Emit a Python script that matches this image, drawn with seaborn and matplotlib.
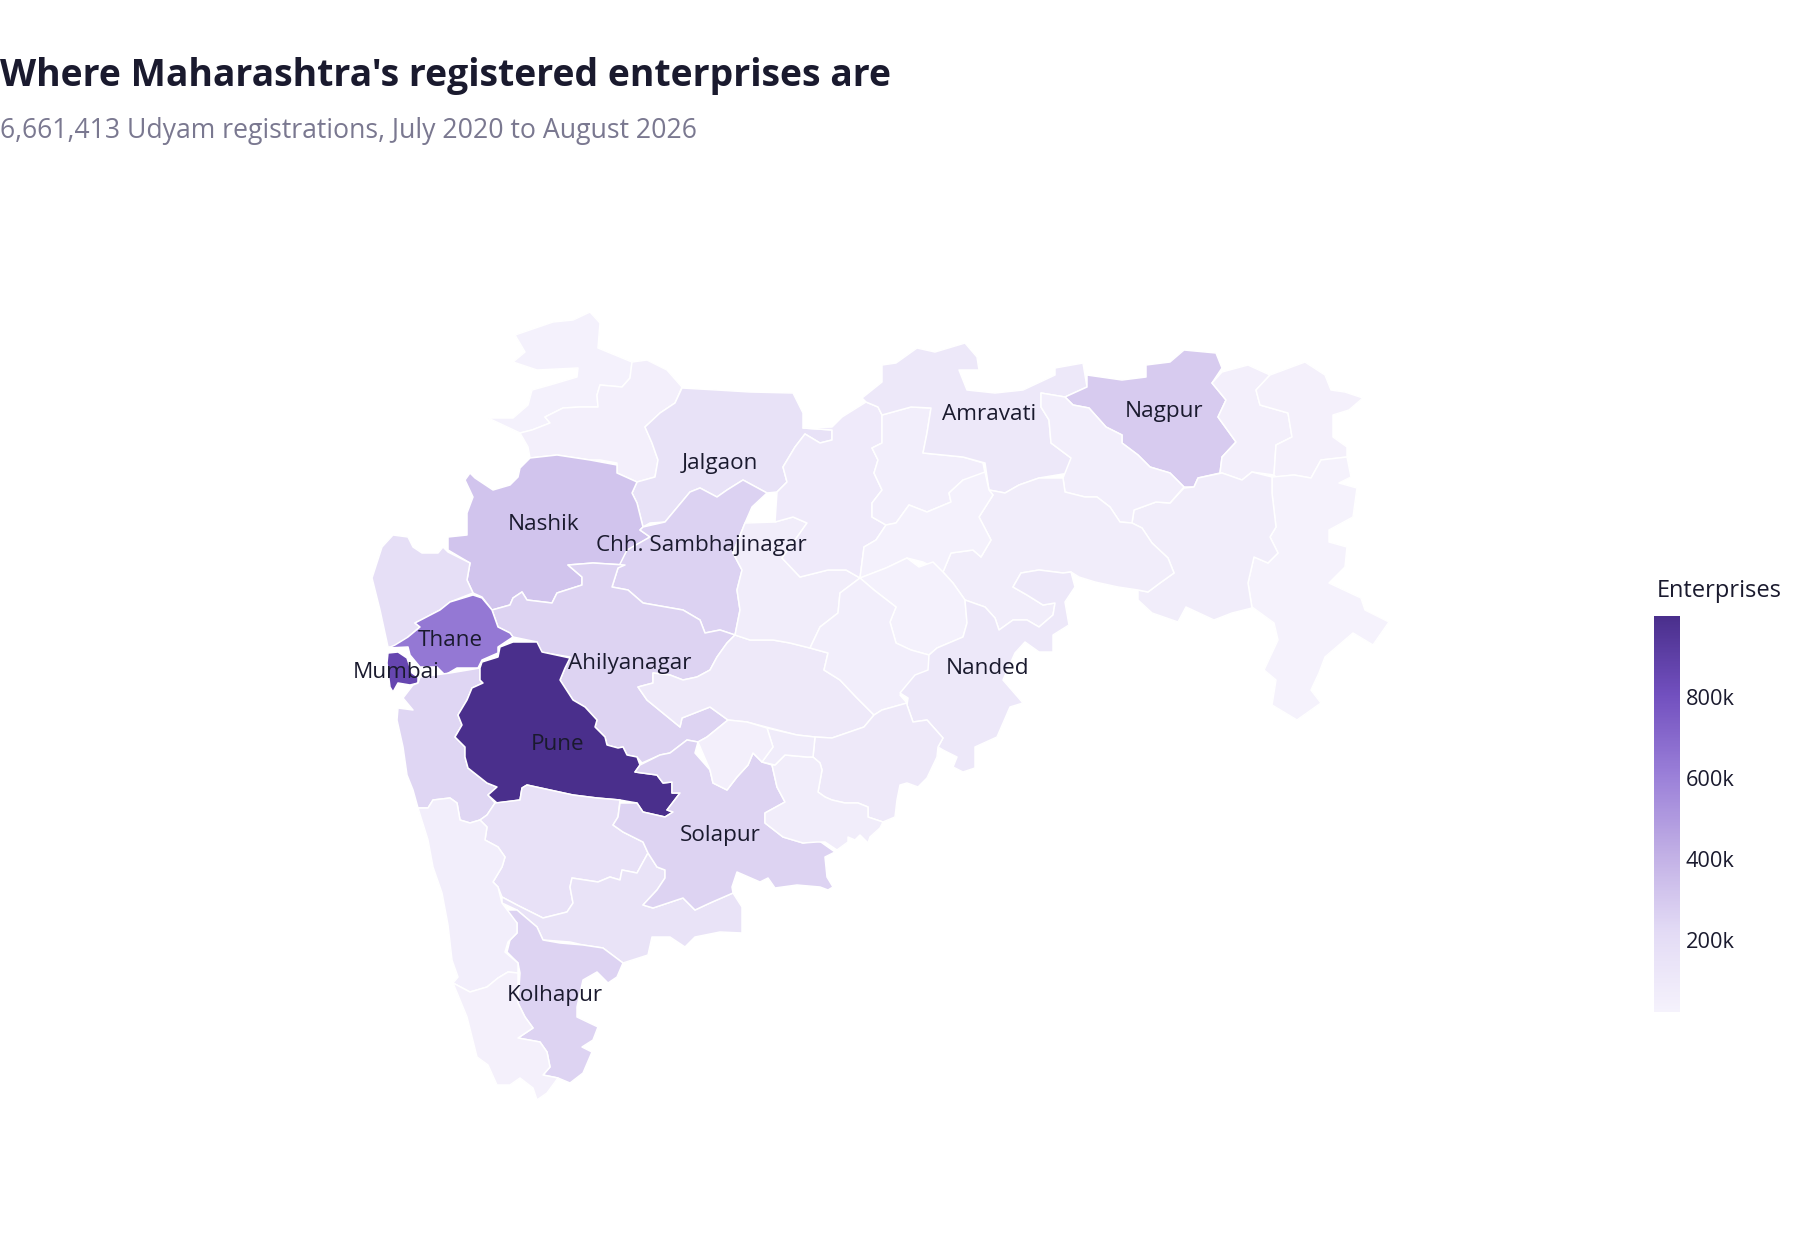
import matplotlib
matplotlib.use("Agg")
import matplotlib.pyplot as plt
from matplotlib.cm import ScalarMappable
from matplotlib.colors import Normalize
from matplotlib.ticker import FuncFormatter
import seaborn as sns

# district outlines (x, y in picture pixels)
nandurbar = [(515,335),(553,322),(573,320),(590,312),(600,323),(598,348),(632,362),(630,378),(622,387),(600,385),(597,395),(598,407),(580,407),(563,408),(545,417),(550,423),(532,430),(520,433),(488,418),(513,418),(528,405),(532,390),(550,385),(577,377),(578,368),(537,370),(513,362),(525,352)]
dhule = [(520,433),(532,430),(550,423),(545,417),(563,408),(580,407),(598,407),(597,395),(600,385),(622,387),(630,378),(632,362),(647,360),(667,370),(682,387),(675,403),(660,413),(645,427),(652,443),(658,460),(655,477),(637,482),(617,473),(617,463),(600,460),(590,460),(557,455),(530,458),(528,447)]
jalgaon = [(682,388),(717,390),(750,392),(793,393),(803,413),(803,428),(832,430),(832,440),(820,443),(805,434),(795,447),(783,467),(787,482),(777,492),(767,493),(743,480),(727,490),(717,497),(700,488),(690,492),(675,510),(665,522),(650,523),(643,527),(637,503),(632,493),(637,482),(655,477),(658,460),(652,443),(645,427),(660,413),(675,403)]
nashik = [(530,458),(557,455),(590,460),(617,465),(617,473),(637,482),(632,493),(637,503),(643,527),(640,530),(650,537),(628,550),(625,565),(593,563),(568,565),(582,577),(582,585),(557,593),(552,603),(527,600),(522,592),(513,598),(510,605),(492,610),(482,597),(473,593),(467,580),(470,563),(448,550),(448,537),(467,535),(467,513),(473,497),(465,480),(470,473),(475,478),(493,490),(510,485),(518,477),(520,468)]
sambhajinagar = [(675,510),(690,492),(700,488),(717,497),(727,490),(743,480),(767,493),(752,507),(745,523),(733,553),(742,570),(737,590),(740,610),(735,635),(720,630),(705,633),(700,620),(683,610),(643,603),(628,590),(612,587),(618,568),(627,550),(650,537),(640,530),(643,527),(665,522)]
ahilyanagar = [(568,565),(593,563),(625,565),(618,568),(612,587),(628,590),(643,603),(683,610),(700,620),(705,633),(720,630),(735,635),(727,643),(717,657),(710,670),(697,677),(683,680),(670,675),(653,673),(653,683),(638,687),(647,700),(680,727),(682,718),(710,707),(728,720),(707,737),(698,742),(687,740),(670,753),(660,755),(642,763),(637,757),(627,755),(623,747),(618,748),(607,745),(605,737),(595,727),(597,720),(585,707),(573,700),(560,680),(565,668),(570,657),(540,652),(537,642),(513,637),(510,633),(498,627),(492,610),(510,605),(513,598),(522,592),(527,600),(552,603),(557,593),(582,585),(582,577)]
palghar = [(393,535),(408,537),(413,547),(422,553),(438,553),(443,547),(448,552),(470,563),(467,580),(473,593),(450,602),(440,610),(415,623),(420,627),(408,637),(408,647),(388,647),(380,610),(372,578),(382,547)]
thane = [(473,595),(482,598),(492,610),(498,627),(510,633),(513,637),(498,647),(498,653),(482,660),(478,668),(457,668),(445,675),(437,667),(420,667),(410,655),(408,647),(388,648),(395,645),(408,637),(420,627),(415,623),(440,610),(450,602)]
mumbai = [(388,653),(398,652),(407,658),(412,673),(418,677),(418,683),(410,685),(398,683),(393,692),(390,687),(387,663)]
raigad = [(413,685),(418,683),(420,677),(450,673),(480,668),(480,680),(483,683),(472,688),(467,700),(458,715),(462,725),(455,737),(465,747),(465,757),(468,768),(487,783),(497,787),(488,795),(495,803),(487,815),(480,820),(470,823),(460,820),(457,803),(450,798),(433,800),(428,808),(418,808),(413,790),(407,775),(403,747),(397,720),(398,708),(413,710),(403,698)]
pune = [(500,647),(513,642),(537,642),(542,652),(570,658),(565,668),(560,680),(573,700),(585,707),(597,720),(595,727),(605,737),(607,745),(618,748),(623,747),(627,755),(637,757),(640,765),(635,772),(657,775),(663,783),(672,782),(672,793),(680,793),(667,810),(673,812),(665,817),(643,812),(637,803),(620,800),(597,798),(573,795),(550,790),(527,785),(522,788),(520,800),(497,803),(488,795),(497,787),(487,783),(468,768),(465,757),(465,747),(455,737),(462,725),(458,715),(467,700),(472,688),(483,683),(480,680),(480,668),(482,662),(498,657)]
satara = [(495,803),(520,800),(522,788),(527,785),(550,790),(573,795),(597,798),(620,800),(618,817),(613,825),(623,832),(643,842),(648,853),(637,873),(622,870),(620,880),(610,877),(598,882),(572,878),(570,887),(573,903),(567,912),(543,918),(517,905),(502,897),(498,887),(493,882),(502,867),(505,857),(498,847),(485,840),(487,827),(480,820),(487,815)]
sangli = [(572,878),(598,882),(610,877),(620,880),(622,870),(637,873),(648,853),(657,867),(665,870),(665,878),(657,890),(643,905),(653,908),(683,898),(695,910),(710,903),(733,893),(742,907),(742,923),(742,933),(720,932),(695,937),(685,947),(670,937),(652,937),(648,955),(623,963),(603,948),(583,945),(570,942),(543,940),(537,927),(517,910),(502,903),(502,897),(517,905),(543,918),(567,912),(573,903),(570,887)]
kolhapur = [(517,910),(537,927),(543,940),(560,943),(583,945),(603,948),(623,963),(617,977),(608,983),(597,972),(583,980),(577,1007),(577,1017),(598,1027),(593,1040),(582,1047),(592,1052),(583,1073),(570,1083),(558,1078),(543,1075),(550,1067),(547,1052),(540,1042),(518,1038),(533,1028),(525,1017),(518,1003),(520,973),(518,963),(507,952),(510,940),(517,933),(517,923),(502,910)]
ratnagiri = [(418,808),(428,808),(433,800),(450,798),(457,803),(460,820),(470,823),(480,820),(487,827),(485,840),(498,847),(505,857),(502,867),(493,882),(498,887),(502,903),(517,923),(517,933),(508,942),(505,952),(518,963),(518,973),(508,972),(498,978),(487,987),(470,992),(453,983),(458,977),(452,960),(448,925),(442,893),(433,867),(428,840)]
sindhudurg = [(453,983),(470,992),(487,987),(498,978),(508,972),(518,973),(518,1003),(525,1017),(533,1028),(518,1038),(540,1042),(547,1052),(550,1067),(543,1075),(558,1078),(547,1093),(537,1100),(533,1088),(520,1078),(510,1085),(497,1085),(488,1065),(477,1057),(467,1017)]
solapur = [(620,803),(637,803),(643,812),(665,817),(673,812),(667,810),(680,793),(672,793),(672,782),(663,783),(657,775),(635,772),(640,765),(660,755),(670,753),(687,740),(698,742),(695,753),(710,770),(713,783),(727,790),(737,777),(748,765),(753,753),(762,762),(772,765),(777,787),(785,802),(765,813),(765,823),(783,837),(803,843),(818,840),(835,852),(825,857),(827,877),(833,887),(828,890),(820,887),(797,885),(775,888),(768,878),(760,882),(737,872),(732,887),(733,893),(710,903),(695,910),(683,898),(653,908),(643,905),(657,890),(665,878),(665,870),(657,867),(648,853),(643,842),(623,832),(613,825),(618,817)]
beed = [(735,635),(750,640),(773,640),(790,643),(810,648),(828,653),(824,670),(840,680),(856,697),(874,715),(864,727),(832,738),(815,737),(797,735),(770,728),(747,722),(728,720),(710,707),(682,718),(680,727),(647,700),(638,687),(653,683),(653,673),(670,675),(683,680),(697,677),(710,670),(717,657),(727,643)]
jalna = [(745,523),(775,522),(793,517),(807,523),(795,540),(782,558),(800,577),(828,570),(846,570),(860,578),(840,593),(838,613),(820,627),(810,648),(790,643),(773,640),(750,640),(735,635),(740,610),(737,590),(742,570),(733,553)]
buldhana = [(803,428),(832,427),(842,417),(866,402),(878,407),(882,415),(882,443),(872,448),(878,460),(874,473),(882,490),(872,503),(872,517),(886,525),(876,540),(864,547),(860,578),(846,570),(828,570),(800,577),(782,558),(795,540),(807,523),(793,517),(775,522),(777,492),(787,482),(783,467),(795,447),(805,434),(820,443),(832,440),(832,430)]
akola = [(882,415),(911,407),(931,408),(927,433),(923,453),(963,457),(983,463),(987,483),(963,480),(949,493),(951,502),(927,512),(909,505),(896,523),(886,525),(872,517),(872,503),(882,490),(874,473),(878,460),(872,448),(882,443)]
amravati = [(862,398),(882,382),(882,365),(896,363),(917,348),(935,352),(965,343),(977,357),(979,370),(959,370),(967,390),(995,393),(1023,390),(1055,375),(1055,368),(1083,363),(1087,387),(1065,397),(1041,393),(1041,407),(1049,420),(1051,443),(1071,458),(1069,473),(1039,478),(1019,485),(1005,493),(989,490),(985,463),(963,457),(923,453),(927,433),(931,408),(911,407),(882,415),(878,407),(866,402)]
nagpur = [(1065,397),(1087,387),(1087,375),(1122,380),(1146,377),(1146,365),(1170,362),(1184,350),(1216,353),(1222,368),(1212,383),(1226,400),(1218,417),(1236,442),(1222,457),(1220,473),(1198,478),(1194,487),(1184,487),(1170,473),(1150,467),(1138,455),(1122,443),(1122,435),(1106,427),(1089,408),(1073,405)]
bhandara = [(1212,383),(1222,372),(1248,365),(1270,375),(1256,390),(1260,405),(1288,413),(1292,437),(1276,445),(1274,475),(1252,472),(1242,480),(1222,473),(1220,473),(1222,457),(1236,442),(1218,417),(1226,400)]
gondia = [(1270,375),(1305,362),(1325,375),(1331,390),(1345,392),(1363,398),(1349,410),(1333,415),(1333,437),(1347,447),(1347,457),(1321,460),(1311,478),(1294,475),(1276,477),(1274,475),(1276,445),(1292,437),(1288,413),(1260,405),(1256,390)]
gadchiroli = [(1272,477),(1294,475),(1311,478),(1321,460),(1347,457),(1351,477),(1339,483),(1357,488),(1353,517),(1329,530),(1329,542),(1347,547),(1345,567),(1329,583),(1361,598),(1365,610),(1389,622),(1373,645),(1353,633),(1325,657),(1319,673),(1311,690),(1321,703),(1297,720),(1272,705),(1276,680),(1264,670),(1278,640),(1274,623),(1252,607),(1248,583),(1254,557),(1268,563),(1278,553),(1270,537),(1276,527),(1272,493)]
chandrapur = [(1184,488),(1170,503),(1156,502),(1134,510),(1132,523),(1142,528),(1152,543),(1168,558),(1174,573),(1160,583),(1148,592),(1138,590),(1138,600),(1152,613),(1178,622),(1186,607),(1214,620),(1232,613),(1252,608),(1248,583),(1254,557),(1268,563),(1278,553),(1270,537),(1276,527),(1272,493),(1272,477),(1252,472),(1242,480),(1222,473),(1198,478),(1194,487)]
wardha = [(1041,393),(1065,397),(1073,405),(1089,408),(1106,427),(1122,435),(1122,443),(1138,455),(1150,467),(1170,473),(1184,487),(1170,503),(1156,502),(1134,510),(1132,523),(1120,522),(1110,507),(1097,497),(1085,497),(1065,492),(1063,478),(1071,458),(1051,443),(1049,420),(1041,407)]
yavatmal = [(989,490),(1005,493),(1019,485),(1039,478),(1063,478),(1065,492),(1085,497),(1097,497),(1110,507),(1120,522),(1132,523),(1142,528),(1152,543),(1168,558),(1174,573),(1160,583),(1148,592),(1138,590),(1118,587),(1095,582),(1079,577),(1071,572),(1063,573),(1039,570),(1021,573),(1013,587),(1027,595),(1043,605),(1055,603),(1053,615),(1039,627),(1027,620),(1013,620),(999,630),(995,618),(985,607),(965,600),(953,583),(943,572),(951,553),(973,550),(981,557),(991,540),(979,517),(993,495)]
washim = [(985,472),(989,490),(993,495),(979,517),(991,540),(981,557),(973,550),(951,553),(943,572),(923,562),(907,558),(886,568),(860,578),(864,547),(876,540),(886,525),(896,523),(909,505),(927,512),(951,502),(949,493),(963,480)]
hingoli = [(860,578),(886,568),(907,558),(919,567),(933,562),(943,572),(953,583),(965,600),(967,623),(963,637),(937,648),(929,655),(911,650),(896,643),(890,622),(896,607),(874,590)]
parbhani = [(860,578),(874,590),(896,607),(890,622),(896,643),(911,650),(929,655),(931,670),(917,677),(911,690),(900,695),(907,703),(882,710),(874,715),(856,697),(840,680),(824,670),(828,653),(810,648),(820,627),(838,613),(840,593)]
nanded = [(965,600),(985,607),(995,618),(999,630),(1013,620),(1027,620),(1039,627),(1053,615),(1055,603),(1043,605),(1027,595),(1013,587),(1021,573),(1039,570),(1063,573),(1071,572),(1075,587),(1065,602),(1069,625),(1053,635),(1053,652),(1039,652),(1025,642),(1015,653),(1003,680),(1023,703),(1010,707),(997,737),(975,747),(975,768),(963,772),(953,767),(957,757),(943,750),(938,747),(943,738),(927,720),(913,722),(907,705),(908,698),(900,693),(915,675),(928,670),(929,655),(937,648),(963,637),(967,623)]
latur = [(815,737),(832,738),(864,727),(874,715),(882,710),(907,703),(907,705),(913,722),(927,720),(943,738),(938,747),(937,757),(927,778),(918,787),(907,783),(900,785),(897,800),(895,817),(883,822),(868,817),(868,807),(858,803),(845,803),(832,800),(825,797),(818,792),(822,770),(820,763),(813,757)]
dharashiv = [(775,765),(785,755),(807,757),(813,757),(820,763),(822,770),(818,792),(825,797),(832,800),(845,803),(858,803),(868,807),(868,817),(883,822),(880,828),(870,837),(868,843),(860,835),(855,840),(848,837),(848,842),(837,850),(825,842),(817,842),(803,843),(783,837),(765,823),(765,813),(785,802),(777,787),(772,765)]
dharashiv_north = [(767,728),(797,735),(815,737),(813,757),(807,757),(785,755),(775,765),(762,762),(773,747)]
karmala = [(698,742),(710,770),(713,783),(727,790),(737,777),(748,765),(753,753),(762,762),(773,747),(767,728),(747,722),(728,720),(707,737)]

district_outlines = [
    nandurbar, dhule, jalgaon, nashik, sambhajinagar, ahilyanagar, palghar, thane, mumbai, raigad,
    pune, satara, sangli, kolhapur, ratnagiri, sindhudurg, solapur, beed, jalna, buldhana, akola,
    amravati, nagpur, bhandara, gondia, gadchiroli, chandrapur, wardha, yavatmal, washim, hingoli,
    parbhani, nanded, latur, dharashiv, dharashiv_north, karmala,
]
# enterprises per district, estimated from the fill colour
district_values = [
    35000, 50000, 160000, 322000, 258000, 255000, 190000, 640000, 860000, 240000,
    1000000, 165000, 150000, 255000, 55000, 40000, 255000, 100000, 70000, 90000, 60000,
    110000, 287000, 45000, 40000, 25000, 65000, 60000, 70000, 30000, 35000,
    60000, 110000, 100000, 65000, 75000, 50000,
]

label_names = ["Jalgaon", "Nagpur", "Amravati", "Nanded", "Nashik", "Chh. Sambhajinagar", "Thane", "Mumbai", "Ahilyanagar", "Pune", "Solapur", "Kolhapur"]
label_x = [720, 1164, 989, 987, 544, 701, 450, 396, 630, 558, 720, 555]
label_y = [463, 411, 415, 669, 525, 545, 640, 673, 663, 744, 835, 995]

colorbar_ticks = [200000, 400000, 600000, 800000]
scale_colors = ["#f5f2fc", "#e3dbf5", "#c1afe5", "#9a7fd8", "#7250bf", "#4a2f8c"]

sns.set_theme(style="white")
plt.rcParams["font.family"] = ["Open Sans", "DejaVu Sans"]

ink = "#1a1a2e"
cmap = sns.blend_palette(scale_colors, as_cmap=True)
norm = Normalize(22000, 1000000)

fig = plt.figure(figsize=(18, 12.4), dpi=100)
ax = fig.add_axes([0, 0, 1, 1])
ax.set_xlim(0, 1800)
ax.set_ylim(1240, 0)
ax.axis("off")

for outline, value in zip(district_outlines, district_values):
    xs, ys = zip(*outline)
    ax.fill(xs, ys, facecolor=cmap(norm(value)), edgecolor="white", linewidth=1.1, joinstyle="round")

for name, x, y in zip(label_names, label_x, label_y):
    ax.text(x, y, name, ha="center", va="center", fontsize=16.2, color=ink)

ax.text(0, 76, "Where Maharashtra's registered enterprises are", fontsize=26.9, fontweight="bold", color=ink, va="center")
ax.text(0, 131, "6,661,413 Udyam registrations, July 2020 to August 2026", fontsize=19.2, color="#7a7890", va="center")
ax.text(1657, 591, "Enterprises", fontsize=17, color=ink, va="center")

cax = fig.add_axes([1654 / 1800, 1 - 1012 / 1240, 26 / 1800, 396 / 1240])
cbar = fig.colorbar(ScalarMappable(norm=norm, cmap=cmap), cax=cax, ticks=colorbar_ticks)
cbar.outline.set_visible(False)
cbar.ax.yaxis.set_major_formatter(FuncFormatter(lambda v, _: f"{v / 1000:.0f}k"))
cbar.ax.tick_params(length=0, pad=4, labelsize=15.7, labelcolor=ink)

fig.savefig("out.png", dpi=100)
